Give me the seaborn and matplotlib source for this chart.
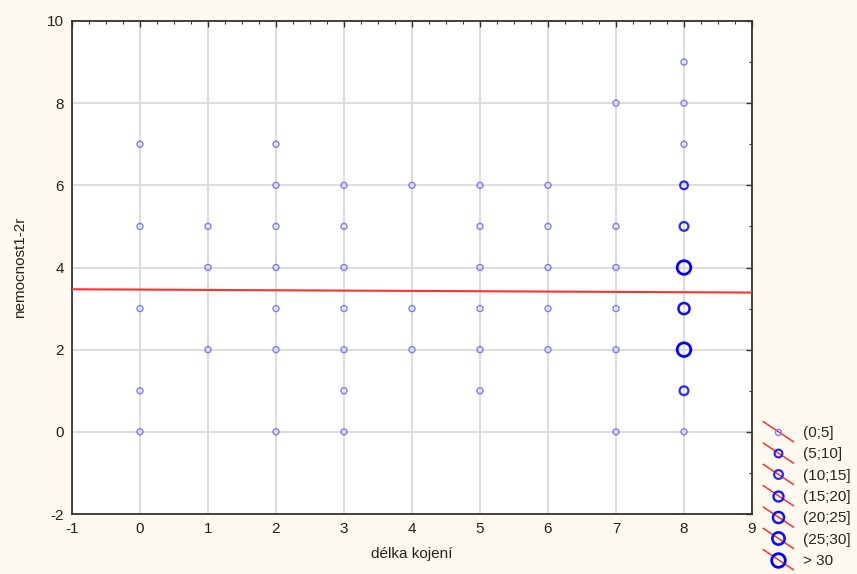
import numpy as np
import pandas as pd
import matplotlib
matplotlib.use("Agg")
import matplotlib.pyplot as plt
import seaborn as sns
from matplotlib.lines import Line2D
from matplotlib.legend_handler import HandlerBase
from matplotlib.ticker import MultipleLocator

# ---- data ----
x_vals = [0, 0, 0, 0, 0,
          1, 1, 1,
          2, 2, 2, 2, 2, 2, 2,
          3, 3, 3, 3, 3, 3, 3,
          4, 4, 4,
          5, 5, 5, 5, 5, 5,
          6, 6, 6, 6, 6,
          7, 7, 7, 7, 7, 7,
          8, 8, 8, 8, 8, 8, 8, 8, 8, 8]
y_vals = [7, 5, 3, 1, 0,
          5, 4, 2,
          7, 6, 5, 4, 3, 2, 0,
          6, 5, 4, 3, 2, 1, 0,
          6, 3, 2,
          6, 5, 4, 3, 2, 1,
          6, 5, 4, 3, 2,
          8, 5, 4, 3, 2, 0,
          9, 8, 7, 6, 5, 4, 3, 2, 1, 0]
counts = [1, 2, 2, 1, 1,
          1, 2, 2,
          1, 2, 3, 3, 2, 3, 1,
          2, 3, 3, 3, 2, 1, 1,
          1, 2, 2,
          2, 3, 3, 2, 3, 1,
          2, 2, 3, 2, 2,
          1, 2, 3, 2, 3, 1,
          1, 2, 3, 8, 12, 33, 23, 34, 13, 3]
categories = ["(0;5]", "(5;10]", "(10;15]", "(15;20]", "(20;25]", "(25;30]", "> 30"]
bin_edges = [0, 5, 10, 15, 20, 25, 30, np.inf]
fit_x = [-1, 9]
fit_y = [3.47, 3.39]

x_ticks = list(range(-1, 10))
y_ticks = [-2, 0, 2, 4, 6, 8, 10]

# ---- styling ----
marker_ms = [4.3, 5.6, 6.3, 7.2, 8.0, 8.8, 9.8]        # marker diameter in points
marker_lw = [1.0, 1.5, 1.6, 1.7, 1.8, 1.9, 2.0]
marker_col = ["#7a7aff", "#2020ff", "#2a2aff", "#1818ff", "#1010ff", "#0a0aff", "#0000ff"]

df = pd.DataFrame({"x": x_vals, "y": y_vals, "n": counts})
df["cat"] = pd.cut(df["n"], bins=bin_edges, labels=categories, right=True)

sns.set_style("white")
plt.rcParams["font.family"] = ["Liberation Sans", "DejaVu Sans"]
plt.rcParams["axes.unicode_minus"] = False

fig = plt.figure(figsize=(8.57, 5.74), dpi=100)
fig.patch.set_facecolor("#fdf9ee")
ax = fig.add_axes([72 / 857, 1 - 514 / 574, 680 / 857, 493 / 574])
ax.set_facecolor("white")

for i, cat in enumerate(categories):
    sub = df[df["cat"] == cat]
    if len(sub) == 0:
        continue
    sns.scatterplot(data=sub, x="x", y="y", ax=ax, marker="o",
                    s=marker_ms[i] ** 2, facecolors="none",
                    edgecolor=marker_col[i], linewidth=marker_lw[i],
                    legend=False, zorder=3)

sns.lineplot(x=fit_x, y=fit_y, ax=ax, color="#ff3030", linewidth=1.5, zorder=4)

ax.set_xlim(-1, 9)
ax.set_ylim(-2, 10)
ax.set_xticks(x_ticks)
ax.set_yticks(y_ticks)
ax.xaxis.set_minor_locator(MultipleLocator(0.25))
ax.yaxis.set_minor_locator(MultipleLocator(1))
ax.grid(True, which="major", color="#dcdcdc", linewidth=1.4, zorder=0)
ax.set_axisbelow(True)
ax.tick_params(which="major", direction="in", length=4, width=1, color="#333333",
               top=True, right=True, labelsize=11, labelcolor="#222222", pad=6)
ax.tick_params(which="minor", direction="in", length=2.5, width=0.8, color="#333333",
               top=True, right=True)
for sp in ax.spines.values():
    sp.set_color("#333333")
    sp.set_linewidth(1.3)
    sp.set_visible(True)

ax.set_xlabel("délka kojení", fontsize=11, color="#222222", labelpad=8)
ax.set_ylabel("nemocnost1-2r", fontsize=11, color="#222222", labelpad=14)


class DiagHandler(HandlerBase):
    def create_artists(self, legend, orig_handle, xdescent, ydescent, width, height,
                       fontsize, trans):
        x0, x1 = -xdescent, -xdescent + width
        y0 = -ydescent - 0.45 * height
        y1 = -ydescent + 1.45 * height
        diag = Line2D([x0, x1], [y1, y0], color="#ff2020", lw=1.0, transform=trans)
        mk = Line2D([(x0 + x1) / 2], [(y0 + y1) / 2], marker="o", linestyle="none",
                    markersize=orig_handle.get_markersize(), markerfacecolor="none",
                    markeredgecolor=orig_handle.get_markeredgecolor(),
                    markeredgewidth=orig_handle.get_markeredgewidth(), transform=trans)
        return [diag, mk]


handles = [Line2D([], [], marker="o", linestyle="none", markersize=marker_ms[i],
                  markerfacecolor="none", markeredgecolor=marker_col[i],
                  markeredgewidth=marker_lw[i]) for i in range(len(categories))]
fig.legend(handles, categories, handler_map={Line2D: DiagHandler()},
           loc="lower left", bbox_to_anchor=(760 / 857, 0.005), frameon=False,
           handlelength=2.0, handletextpad=0.6, labelspacing=0.48,
           fontsize=11, borderaxespad=0, borderpad=0.2)

fig.savefig("out.png", dpi=100, facecolor=fig.get_facecolor())
